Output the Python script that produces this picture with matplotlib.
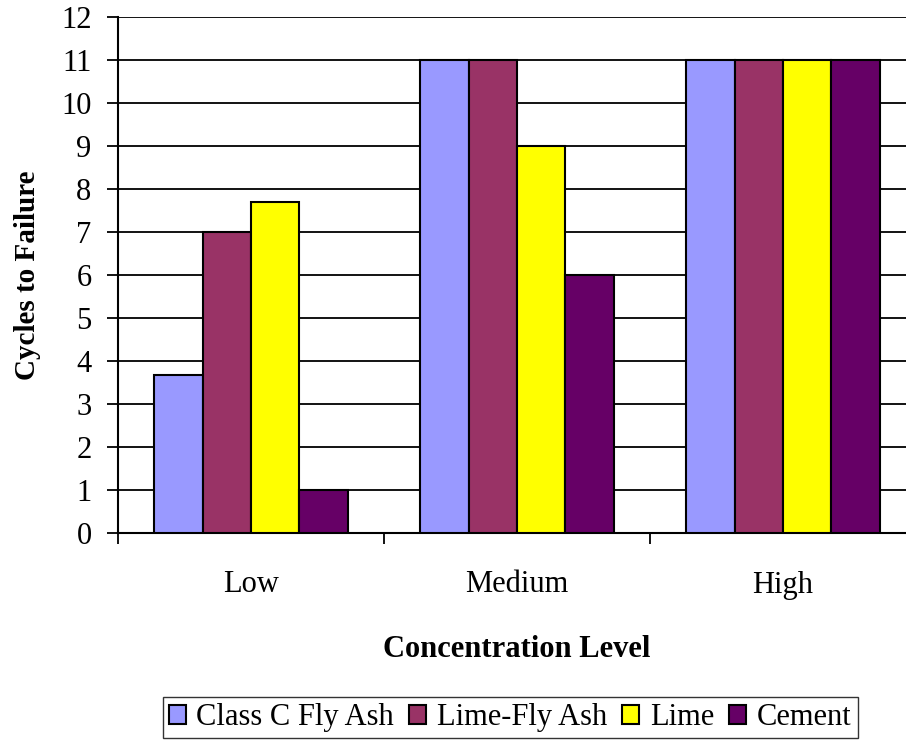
import numpy as np
import matplotlib
matplotlib.use("Agg")
from matplotlib import pyplot as plt

plt.rcParams['font.family'] = ['Liberation Serif', 'DejaVu Serif']

levels = ["Low", "Medium", "High"]
binders = ["Class C Fly Ash", "Lime-Fly Ash", "Lime", "Cement"]
cycles = {
    "Class C Fly Ash": [3.67, 11, 11],
    "Lime-Fly Ash": [7, 11, 11],
    "Lime": [7.7, 9, 11],
    "Cement": [1, 6, 11],
}
colors = ["#9999FF", "#993366", "#FFFF00", "#660066"]

fig = plt.figure(figsize=(9.06, 7.4), dpi=100)
ax = fig.add_axes([118/906, 207/740, 798/906, 516/740])

x = np.arange(len(levels))
w = 0.182
for i, (name, c) in enumerate(zip(binders, colors)):
    ax.bar(x + (i - 1.5) * w, cycles[name], width=w, color=c,
           edgecolor="black", linewidth=1.5, label=name, zorder=3)

ax.set_xlim(-0.5, 2.5)
ax.set_ylim(0, 12)
ax.set_yticks(range(0, 13))
ax.yaxis.grid(True, color="black", linewidth=1.3, zorder=0)
ax.set_axisbelow(True)

ax.set_xticks(x)
ax.set_xticklabels(levels, fontsize=22)
ax.set_xticks([-0.5, 0.5, 1.5, 2.5], minor=True)
ax.tick_params(axis="x", which="major", length=0, pad=27)
ax.tick_params(axis="x", which="minor", length=8, width=1.3, direction="out")
ax.tick_params(axis="y", labelsize=22, length=8, width=1.3, pad=11)

for s in ["top", "right"]:
    ax.spines[s].set_visible(False)
for s in ["left", "bottom"]:
    ax.spines[s].set_linewidth(1.5)

ax.set_ylabel("Cycles to Failure", fontsize=21, fontweight="bold")
ax.yaxis.set_label_coords(-0.097, 0.5)
ax.set_xlabel("Concentration Level", fontsize=22, fontweight="bold")
ax.xaxis.set_label_coords(0.5, -0.198)

fig.legend(loc="center", bbox_to_anchor=(0.563, 0.03), bbox_transform=fig.transFigure,
           ncol=4, fontsize=22, frameon=True, fancybox=False, edgecolor="black",
           handlelength=0.55, handleheight=0.55, handletextpad=0.35,
           columnspacing=0.5, borderpad=0.2, borderaxespad=0)

fig.savefig("out.png", dpi=100)
